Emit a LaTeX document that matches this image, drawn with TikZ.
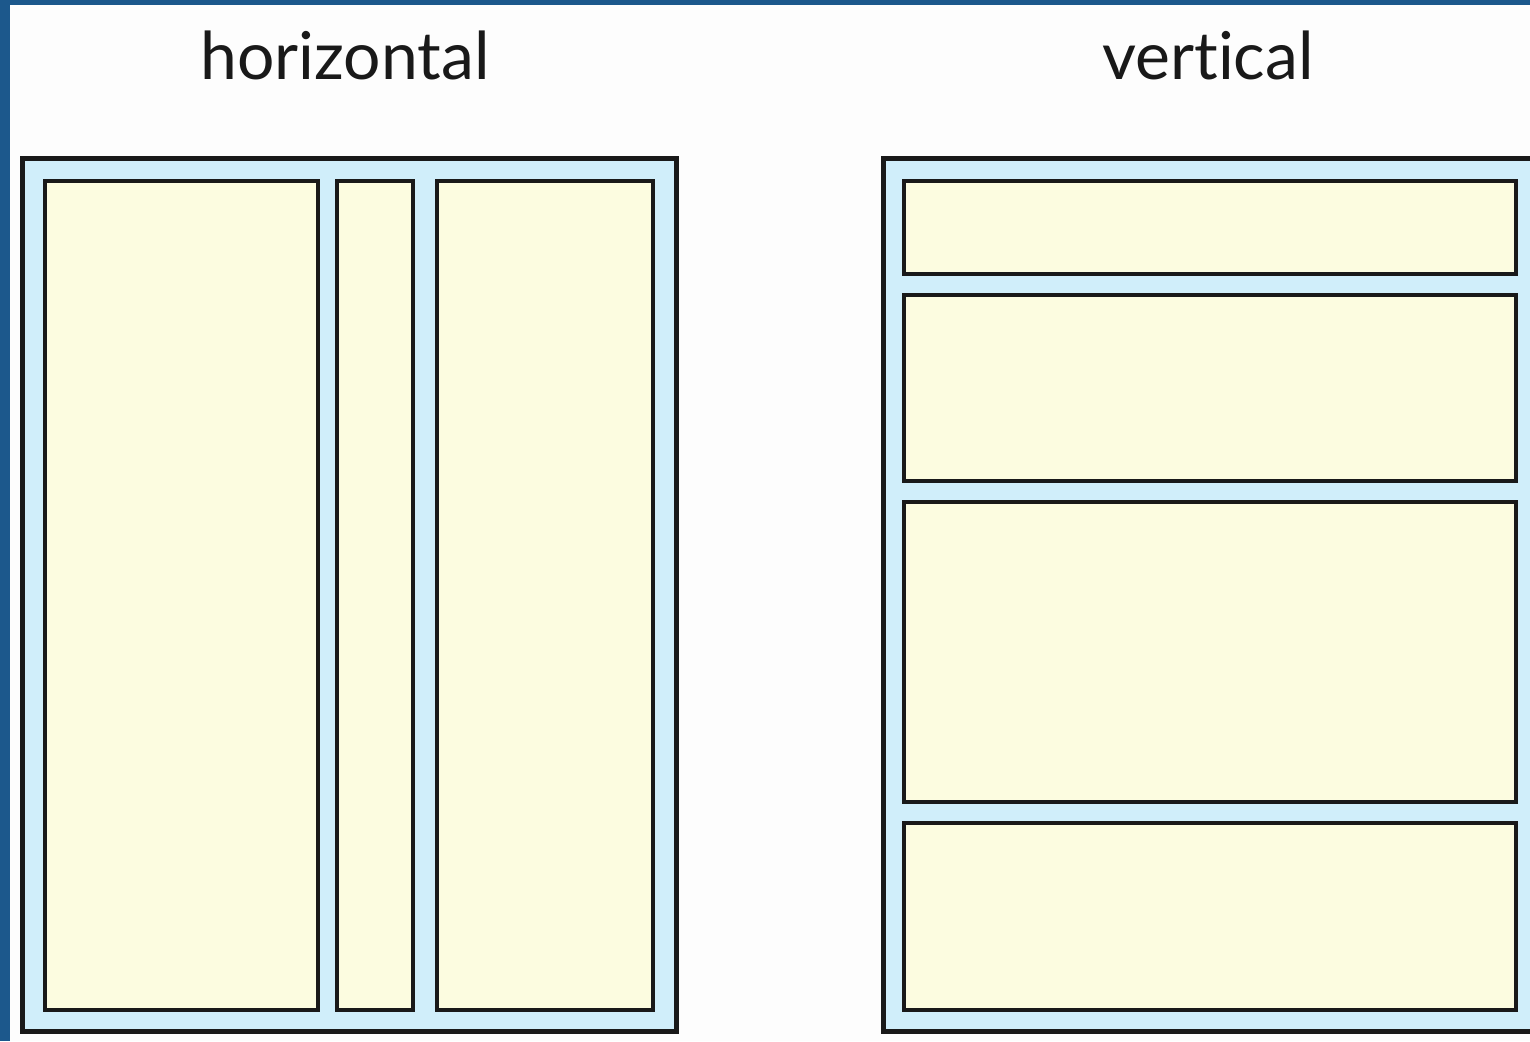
\documentclass[tikz,border=0pt]{standalone}
\usepackage{fontspec}
\setmainfont{Lato}[Ligatures={NoCommon}]
\definecolor{frameblue}{RGB}{28,88,140}
\definecolor{paleblue}{RGB}{208,238,250}
\definecolor{cream}{RGB}{252,252,224}
\definecolor{bgwhite}{RGB}{253,253,253}
\tikzset{
  outerbox/.style={draw=black!90, line width=5pt, fill=paleblue},
  innerbox/.style={draw=black!90, line width=4.5pt, fill=cream},
  title/.style={font=\fontsize{66}{70}\selectfont, text=black!90, anchor=base}
}
\begin{document}
\begin{tikzpicture}[x=1pt,y=-1pt]
\useasboundingbox (0,0) rectangle (1530,1041);
\fill[frameblue] (0,0) rectangle (1530,1041);
\fill[bgwhite] (10,5) rectangle (1530,1041);
% left
\draw[outerbox] (22,158) rectangle (676,1031);
\draw[innerbox] (45,181) rectangle (318,1010);
\draw[innerbox] (337,181) rectangle (413,1010);
\draw[innerbox] (437,181) rectangle (653,1010);
\node[title] (h) at (345,79) {horizontal};
% right
\draw[outerbox] (883,158) rectangle (1545,1031);
\draw[innerbox] (904,181) rectangle (1516,274);
\draw[innerbox] (904,295) rectangle (1516,481);
\draw[innerbox] (904,502) rectangle (1516,802);
\draw[innerbox] (904,823) rectangle (1516,1010);
\node[title] (v) at (1208,79) {vertical};
\end{tikzpicture}
\end{document}
